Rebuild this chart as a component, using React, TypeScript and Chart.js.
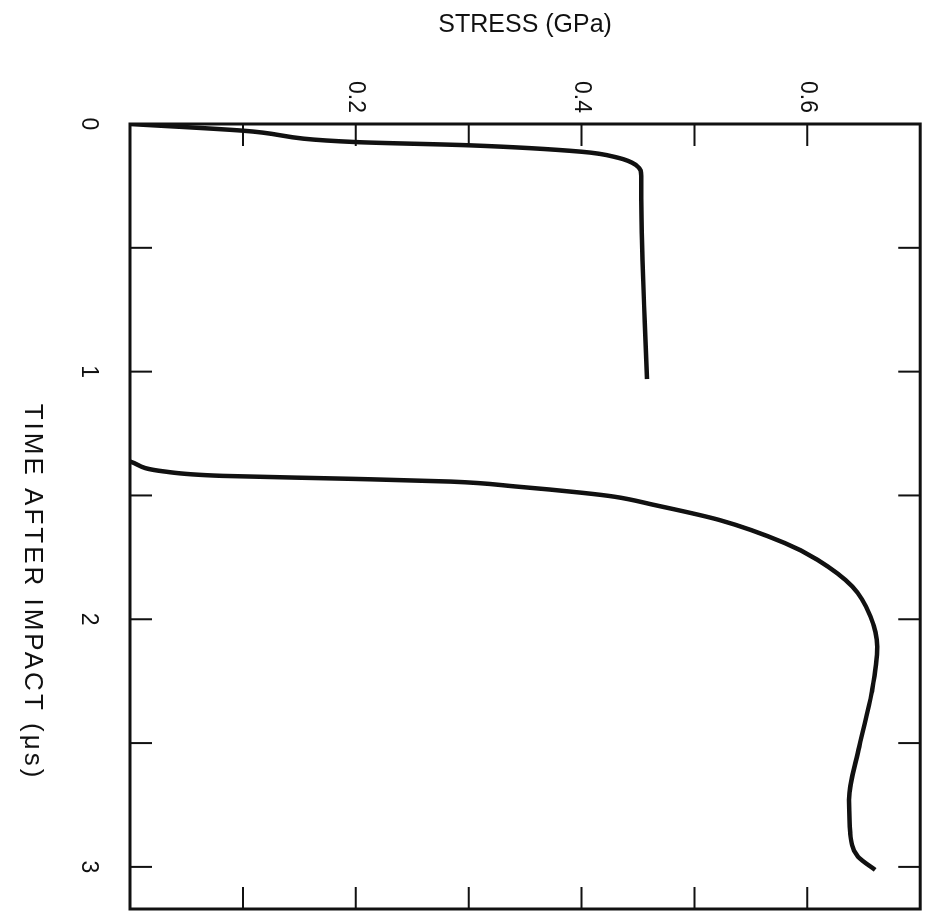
import React, { useEffect, useRef } from "react";
import { Chart, registerables } from "chart.js";

Chart.register(...registerables);

// ---- data (time in microseconds, stress in GPa) ----
const curve1Time = [0, 0.027, 0.073, 0.086, 0.112, 0.136, 0.165, 0.21, 0.3, 0.55, 0.8, 1.03];
const curve1Stress = [0, 0.1, 0.2, 0.3, 0.4, 0.432, 0.448, 0.453, 0.453, 0.454, 0.456, 0.458];

const curve2Time = [1.363, 1.403, 1.421, 1.433, 1.444, 1.464, 1.489, 1.505, 1.538, 1.599, 1.692, 1.76, 1.868, 1.989, 2.111, 2.297, 2.515, 2.729, 2.862, 2.959, 3.012];
const curve2Stress = [0, 0.03, 0.082, 0.197, 0.284, 0.342, 0.4, 0.429, 0.464, 0.522, 0.58, 0.609, 0.64, 0.656, 0.662, 0.657, 0.646, 0.637, 0.638, 0.645, 0.66];

const timeTicks = [0, 0.5, 1, 1.5, 2, 2.5, 3];
const timeTickLabels = ["0", "", "1", "", "2", "", "3"];
const stressTicks = [0.1, 0.2, 0.3, 0.4, 0.5, 0.6];
const stressTickLabels = ["", "0.2", "", "0.4", "", "0.6"];

const stressTitle = "STRESS (GPa)";
const timeTitle = "TIME AFTER IMPACT (\u03bcs)";

const FONT = "'Liberation Sans', Arial, Helvetica, sans-serif";
const INK = "#111";

function labelFor(values: number[], labels: string[], v: number) {
  const i = values.findIndex((x) => Math.abs(x - v) < 1e-6);
  return i >= 0 ? labels[i] : "";
}

const frameTicksPlugin = {
  id: "frameTicks",
  afterDraw(chart: any) {
    const { ctx, chartArea: a, scales } = chart;
    const xs = scales.x;
    const ys = scales.y;
    ctx.save();
    ctx.strokeStyle = INK;
    ctx.lineWidth = 3;
    ctx.strokeRect(a.left, a.top, a.right - a.left, a.bottom - a.top);
    ctx.lineWidth = 2;
    const L = 22;
    timeTicks.forEach((v) => {
      if (v === 0) return;
      const px = xs.getPixelForValue(v);
      ctx.beginPath();
      ctx.moveTo(px, a.bottom);
      ctx.lineTo(px, a.bottom - L);
      ctx.moveTo(px, a.top);
      ctx.lineTo(px, a.top + L);
      ctx.stroke();
    });
    stressTicks.forEach((v) => {
      const py = ys.getPixelForValue(v);
      ctx.beginPath();
      ctx.moveTo(a.left, py);
      ctx.lineTo(a.left + L, py);
      ctx.moveTo(a.right, py);
      ctx.lineTo(a.right - L, py);
      ctx.stroke();
    });
    // time axis title
    ctx.fillStyle = INK;
    ctx.font = `26px ${FONT}`;
    try {
      (ctx as any).letterSpacing = "3px";
    } catch (e) {}
    ctx.textAlign = "center";
    ctx.textBaseline = "middle";
    ctx.fillText(timeTitle, 592, 913);
    ctx.restore();
  },
};

export default function App() {
  const ref = useRef<HTMLCanvasElement | null>(null);

  useEffect(() => {
    if (!ref.current) return;
    const chart = new Chart(ref.current, {
      type: "line",
      data: {
        datasets: [
          {
            label: "first",
            data: curve1Time.map((t, i) => ({ x: t, y: curve1Stress[i] })),
            borderColor: INK,
            borderWidth: 4.5,
            pointRadius: 0,
            fill: false,
            cubicInterpolationMode: "monotone",
          },
          {
            label: "second",
            data: curve2Time.map((t, i) => ({ x: t, y: curve2Stress[i] })),
            borderColor: INK,
            borderWidth: 4.5,
            pointRadius: 0,
            fill: false,
            cubicInterpolationMode: "monotone",
          },
        ],
      },
      options: {
        responsive: false,
        animation: false,
        layout: { padding: { top: 8, right: 5, left: 0, bottom: 0 } },
        plugins: { legend: { display: false }, tooltip: { enabled: false } },
        scales: {
          x: {
            type: "linear",
            position: "bottom",
            min: 0,
            max: 3.17,
            grid: { display: false, drawTicks: false },
            border: { display: false },
            afterBuildTicks: (s: any) => {
              s.ticks = timeTicks.map((v) => ({ value: v }));
            },
            afterFit: (s: any) => {
              s.height = 130;
            },
            ticks: {
              autoSkip: false,
              maxRotation: 0,
              minRotation: 0,
              padding: 28,
              color: INK,
              font: { family: FONT, size: 23 },
              callback: (v: any) => labelFor(timeTicks, timeTickLabels, Number(v)),
            },
          },
          y: {
            type: "linear",
            position: "left",
            min: 0,
            max: 0.7,
            grid: { display: false, drawTicks: false },
            border: { display: false },
            afterBuildTicks: (s: any) => {
              s.ticks = stressTicks.map((v) => ({ value: v }));
            },
            afterFit: (s: any) => {
              s.width = 124;
            },
            title: {
              display: true,
              text: stressTitle,
              color: INK,
              font: { family: FONT, size: 25 },
              padding: { top: 10, bottom: 0 },
            },
            ticks: {
              autoSkip: false,
              padding: 11,
              color: INK,
              font: { family: FONT, size: 23 },
              callback: (v: any) => labelFor(stressTicks, stressTickLabels, Number(v)),
            },
          },
        },
      },
      plugins: [frameTicksPlugin],
    } as any);
    return () => chart.destroy();
  }, []);

  return (
    <div
      style={{
        position: "fixed",
        left: 0,
        top: 0,
        width: 914,
        height: 945,
        transformOrigin: "0 0",
        transform: "translate(945px, 0px) rotate(90deg)",
        background: "#fff",
      }}
    >
      <canvas ref={ref} width={914} height={945} style={{ display: "block" }} />
    </div>
  );
}
